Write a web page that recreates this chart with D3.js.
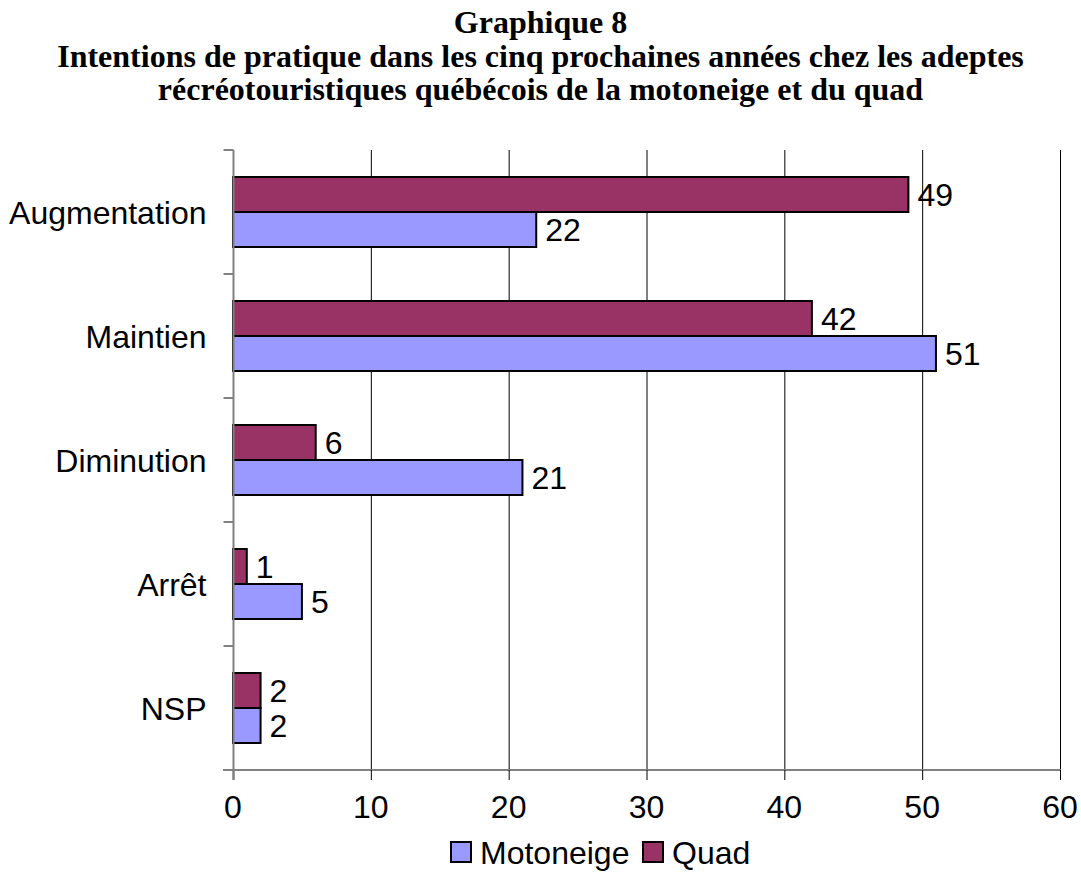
<!DOCTYPE html>
<meta charset="utf-8">
<script src="https://d3js.org/d3.v7.min.js"></script>
<style>
  body { margin: 0; background: #fff; }
  text { font-family: "Liberation Sans", Arial, sans-serif; }
</style>
<body>
<script>

var width = 1081
var height = 879

var categories = ["Augmentation", "Maintien", "Diminution", "Arrêt", "NSP"]
var seriesNames = ["Quad", "Motoneige"]
var quad = [49, 42, 6, 1, 2]
var motoneige = [22, 51, 21, 5, 2]
var xTicks = [0, 10, 20, 30, 40, 50, 60]
var titleLines = ["Graphique 8",
                  "Intentions de pratique dans les cinq prochaines années chez les adeptes",
                  "récréotouristiques québécois de la motoneige et du quad"]

var colors = {"Motoneige": "#9999ff", "Quad": "#993366"}

var margin = {top: 150, left: 233, right: 21, bottom: 109}
var fs = "32px"

var x = d3.scaleLinear().domain([0, 60]).range([margin.left, width - margin.right])
var y = d3.scaleBand().domain(categories).range([margin.top, height - margin.bottom])
var inner = d3.scaleBand().domain(seriesNames).range([27, 97])

var svg = d3.select("body").append("svg")
            .attr("width", width)
            .attr("height", height)

// title
svg.append("g").selectAll("text")
   .data(titleLines)
   .join("text")
   .attr("x", width / 2)
   .attr("y", function(d, i) { return 33 + i * 33.5 })
   .attr("text-anchor", "middle")
   .style("font-family", '"Liberation Serif", "Times New Roman", serif')
   .style("font-weight", "bold")
   .style("font-size", fs)
   .text(function(d) { return d })

// gridlines
svg.append("g").selectAll("line")
   .data(xTicks.slice(1))
   .join("line")
   .attr("x1", function(d) { return x(d) + 0.5 })
   .attr("x2", function(d) { return x(d) + 0.5 })
   .attr("y1", margin.top)
   .attr("y2", height - margin.bottom)
   .attr("stroke", "#000")
   .attr("stroke-width", 1)

// bars
var rows = categories.map(function(c, i) {
  return {cat: c, values: [{s: "Quad", v: quad[i]}, {s: "Motoneige", v: motoneige[i]}]}
})

var groups = svg.append("g").selectAll("g")
   .data(rows)
   .join("g")
   .attr("transform", function(d) { return "translate(0," + y(d.cat) + ")" })

groups.selectAll("rect")
   .data(function(d) { return d.values })
   .join("rect")
   .attr("x", x(0))
   .attr("y", function(d) { return inner(d.s) })
   .attr("width", function(d) { return x(d.v) - x(0) })
   .attr("height", inner.bandwidth())
   .attr("fill", function(d) { return colors[d.s] })
   .attr("stroke", "#000")
   .attr("stroke-width", 2)

groups.selectAll("text")
   .data(function(d) { return d.values })
   .join("text")
   .attr("x", function(d) { return x(d.v) + 9 })
   .attr("y", function(d) { return inner(d.s) + inner.bandwidth() / 2 })
   .attr("dy", "0.36em")
   .style("font-size", fs)
   .text(function(d) { return d.v })

// left axis
var yAxis = svg.append("g")
   .attr("transform", "translate(" + (margin.left + 0.5) + ",0)")
yAxis.append("line")
   .attr("y1", margin.top).attr("y2", height - margin.bottom + 10)
   .attr("stroke", "#808080").attr("stroke-width", 2)
var yTickPos = categories.map(function(c) { return y(c) }).concat([height - margin.bottom])
yAxis.selectAll(".tk")
   .data(yTickPos)
   .join("line")
   .attr("class", "tk")
   .attr("x1", -10).attr("x2", 0)
   .attr("y1", function(d) { return d }).attr("y2", function(d) { return d })
   .attr("stroke", "#808080").attr("stroke-width", 2)
yAxis.selectAll(".lbl")
   .data(categories)
   .join("text")
   .attr("class", "lbl")
   .attr("x", -27)
   .attr("y", function(d) { return y(d) + y.bandwidth() / 2 })
   .attr("dy", "0.36em")
   .attr("text-anchor", "end")
   .style("font-size", fs)
   .text(function(d) { return d })

// bottom axis
var xAxis = svg.append("g")
   .attr("transform", "translate(0," + (height - margin.bottom) + ")")
xAxis.append("line")
   .attr("x1", margin.left - 10).attr("x2", x(60) + 1)
   .attr("stroke", "#808080").attr("stroke-width", 2)
xAxis.selectAll(".tk")
   .data(xTicks)
   .join("line")
   .attr("class", "tk")
   .attr("x1", function(d) { return x(d) + 0.5 }).attr("x2", function(d) { return x(d) + 0.5 })
   .attr("y1", 0).attr("y2", 10)
   .attr("stroke", function(d) { return d === 0 ? "#808080" : "#000" })
   .attr("stroke-width", function(d) { return d === 0 ? 2 : 1 })
xAxis.selectAll(".lbl")
   .data(xTicks)
   .join("text")
   .attr("class", "lbl")
   .attr("x", function(d) { return x(d) })
   .attr("y", 48)
   .attr("text-anchor", "middle")
   .style("font-size", fs)
   .text(function(d) { return d })

// legend
var legendItems = [{s: "Motoneige", x: 451}, {s: "Quad", x: 643}]
var legend = svg.append("g").selectAll("g")
   .data(legendItems)
   .join("g")
   .attr("transform", function(d) { return "translate(" + d.x + ",842)" })
legend.append("rect")
   .attr("width", 20).attr("height", 20)
   .attr("fill", function(d) { return colors[d.s] })
   .attr("stroke", "#000").attr("stroke-width", 2)
legend.append("text")
   .attr("x", 29).attr("y", 10)
   .attr("dy", "0.36em")
   .style("font-size", fs)
   .text(function(d) { return d.s })

</script>
</body>
